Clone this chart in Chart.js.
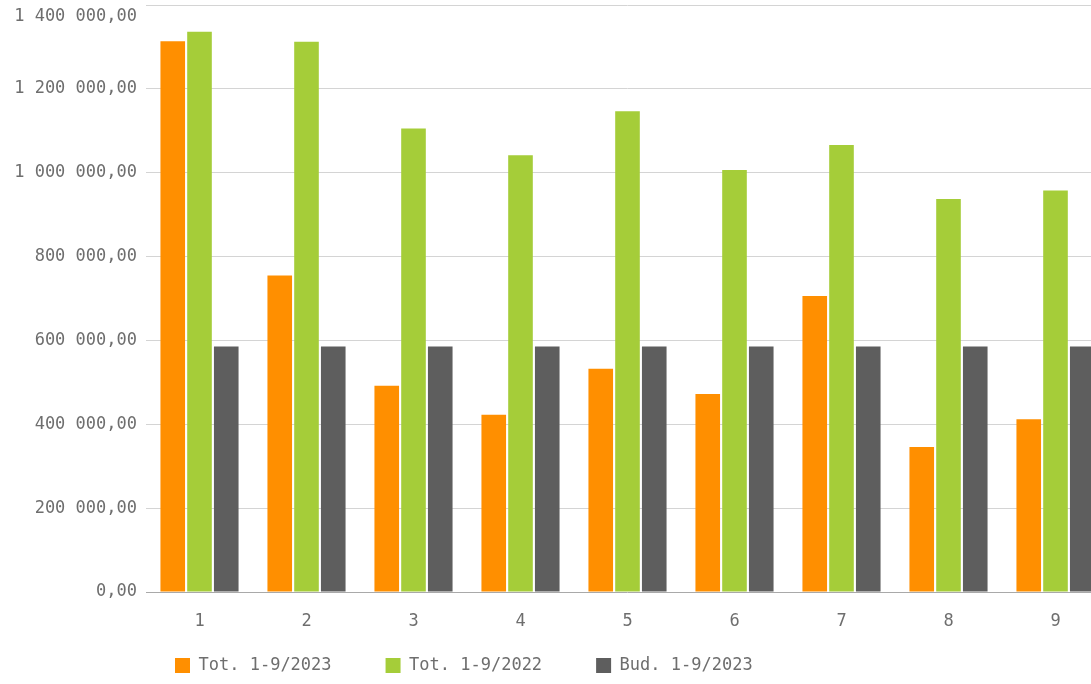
<!DOCTYPE html>
<html>
<head>
<meta charset="utf-8">
<script src="https://cdn.jsdelivr.net/npm/chart.js@4"></script>
<style>
  html, body { margin: 0; padding: 0; background: #ffffff; overflow: hidden; }
  #wrap { position: relative; width: 1112px; height: 684px; }
</style>
</head>
<body>
<div id="wrap"><canvas id="c"></canvas></div>
<script>
const categories = ['1', '2', '3', '4', '5', '6', '7', '8', '9'];
const seriesNames = ['Tot. 1-9/2023', 'Tot. 1-9/2022', 'Bud. 1-9/2023'];
const tot2023 = [1313600, 754900, 492200, 422600, 532300, 472300, 705900, 345700, 412200];
const tot2022 = [1336100, 1312100, 1105600, 1041500, 1146500, 1006200, 1066300, 937600, 957500];
const bud2023 = [585800, 585800, 585800, 585800, 585800, 585800, 585800, 585800, 585800];
const yMin = 0, yMax = 1400000, yStep = 200000;

const colors = ['#FF8F00', '#A5CD39', '#5E5E5E'];
const FONT = '"DejaVu Sans Mono", "Liberation Mono", monospace';

function fmt(v) {
  const s = Math.round(v).toString().replace(/\B(?=(\d{3})+(?!\d))/g, ' ');
  return s + ',00';
}

const legendShift = {
  id: 'legendShift',
  afterLayout(chart) {
    const lg = chart.legend;
    if (lg) {
      lg.left += 121; lg.right += 121;
      lg.top -= 29; lg.bottom = chart.height; lg.height = lg.bottom - lg.top;
    }
  }
};

new Chart(document.getElementById('c'), {
  type: 'bar',
  data: {
    labels: categories,
    datasets: [
      { label: seriesNames[0], data: tot2023, backgroundColor: colors[0] },
      { label: seriesNames[1], data: tot2022, backgroundColor: colors[1] },
      { label: seriesNames[2], data: bud2023, backgroundColor: colors[2] }
    ]
  },
  options: {
    responsive: true,
    maintainAspectRatio: false,
    animation: false,
    layout: { padding: { top: 5, right: 3, left: 0, bottom: 0 } },
    datasets: { bar: { categoryPercentage: 0.75, barPercentage: 0.92, borderWidth: 0 } },
    scales: {
      x: {
        grid: { display: false, drawTicks: false },
        border: { display: false },
        ticks: { color: '#6e6e6e', font: { family: FONT, size: 17 }, padding: 19, maxRotation: 0, autoSkip: false },
        afterFit(scale) { scale.height = 40; scale.paddingLeft = 0; scale.paddingRight = 0; }
      },
      y: {
        min: yMin, max: yMax,
        grid: {
          drawTicks: false,
          color: (ctx) => (ctx.tick && ctx.tick.value === 0) ? '#a9a9a9' : '#d4d4d4',
          lineWidth: 1
        },
        border: { display: false },
        ticks: {
          stepSize: yStep,
          color: '#6e6e6e',
          font: { family: FONT, size: 17, lineHeight: 1.4 },
          padding: 9,
          callback: (v) => v === yMax ? ['', fmt(v)] : fmt(v)
        },
        afterFit(scale) { scale.width = 146; scale.paddingTop = 0; scale.paddingBottom = 0; }
      }
    },
    plugins: {
      legend: {
        position: 'bottom',
        align: 'start',
        maxHeight: 52,
        labels: {
          boxWidth: 15, boxHeight: 15, padding: 54,
          color: '#6e6e6e', font: { family: FONT, size: 17 }
        }
      },
      tooltip: { enabled: false }
    }
  },
  plugins: [legendShift]
});
</script>
</body>
</html>
